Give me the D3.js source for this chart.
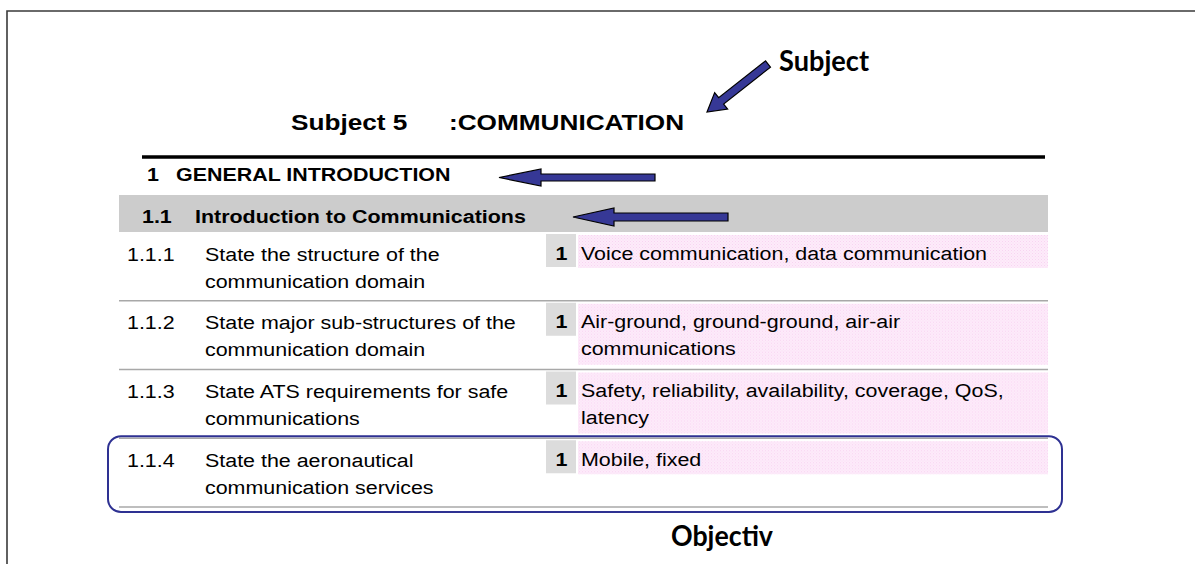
<!DOCTYPE html>
<html><head><meta charset="utf-8">
<script src="https://cdn.jsdelivr.net/npm/d3@7"></script>
<style>html,body{margin:0;padding:0;background:#fff;}svg{display:block;}</style>
</head><body>
<div id="chart"></div>
<script>
// ---- content ----
const subjectLabel = "Subject";
const objectiveLabel = "Objectiv";
const titleParts = ["Subject 5", ":COMMUNICATION"];
const sectionNumber = "1";
const sectionTitle = "GENERAL INTRODUCTION";
const subsectionNumber = "1.1";
const subsectionTitle = "Introduction to Communications";
const rowNumbers = ["1.1.1", "1.1.2", "1.1.3", "1.1.4"];
const rowObjectives = [
  ["State the structure of the", "communication domain"],
  ["State major sub-structures of the", "communication domain"],
  ["State ATS requirements for safe", "communications"],
  ["State the aeronautical", "communication services"]
];
const rowLevels = [1, 1, 1, 1];
const rowContents = [
  ["Voice communication, data communication"],
  ["Air-ground, ground-ground, air-air", "communications"],
  ["Safety, reliability, availability, coverage, QoS,", "latency"],
  ["Mobile, fixed"]
];
const highlightedRow = "1.1.4";

// ---- layout ----
const W = 1195, H = 564;
const arial = "'Liberation Sans', Arial, sans-serif";
const calibri = "Lato, 'Open Sans', sans-serif";
const arrowFill = "#363896";
const SX = 1.19; // horizontal stretch of the source picture

const svg = d3.select("#chart").append("svg").attr("width", W).attr("height", H);
const defs = svg.append("defs");
const pat = defs.append("pattern").attr("id", "pink").attr("patternUnits", "userSpaceOnUse")
  .attr("width", 3).attr("height", 3);
pat.append("rect").attr("width", 3).attr("height", 3).attr("fill", "#fdebfa");
pat.append("rect").attr("width", 1).attr("height", 1).attr("fill", "#f8d4f1");
pat.append("rect").attr("x", 1.5).attr("y", 1.5).attr("width", 1).attr("height", 1).attr("fill", "#f9dcf4");

function stretch(sel) {
  sel.each(function () {
    const n = this.getComputedTextLength();
    d3.select(this).attr("textLength", n * SX).attr("lengthAdjust", "spacingAndGlyphs");
  });
  return sel;
}

// outer frame (extends beyond the picture on right/bottom)
svg.append("path").attr("d", `M7,${H + 5} L7,11 L${W + 5},11`)
  .attr("fill", "none").attr("stroke", "#3a3a3a").attr("stroke-width", 1.6);

function text(x, y, s, size, weight, family, len) {
  const t = svg.append("text").attr("x", x).attr("y", y).text(s)
    .attr("font-size", size).attr("font-weight", weight).attr("font-family", family).attr("fill", "#000");
  if (len) t.attr("textLength", len).attr("lengthAdjust", "spacingAndGlyphs");
  else stretch(t);
  return t;
}

function arrow(tail, tip, shaft, head, headLen) {
  const dx = tip[0] - tail[0], dy = tip[1] - tail[1];
  const L = Math.hypot(dx, dy), ux = dx / L, uy = dy / L, nx = -uy, ny = ux;
  const bx = tip[0] - ux * headLen, by = tip[1] - uy * headLen;
  const pts = [
    [tail[0] + nx * shaft / 2, tail[1] + ny * shaft / 2],
    [bx + nx * shaft / 2, by + ny * shaft / 2],
    [bx + nx * head / 2, by + ny * head / 2],
    tip,
    [bx - nx * head / 2, by - ny * head / 2],
    [bx - nx * shaft / 2, by - ny * shaft / 2],
    [tail[0] - nx * shaft / 2, tail[1] - ny * shaft / 2]
  ];
  svg.append("path").attr("d", d3.line()(pts) + "Z")
    .attr("fill", arrowFill).attr("stroke", "#000").attr("stroke-width", 1.2).attr("stroke-linejoin", "miter");
}

// title and annotations
text(779, 71, subjectLabel, 28, 700, calibri, 90);
arrow([768, 64], [707, 112], 8, 21, 18);
text(291, 130, titleParts[0], 22, 700, arial);
text(449, 130, titleParts[1], 22, 700, arial);

// thick rule
svg.append("line").attr("x1", 142).attr("x2", 1045).attr("y1", 157).attr("y2", 157)
  .attr("stroke", "#000").attr("stroke-width", 3.5);

text(147, 181, sectionNumber, 18, 700, arial);
text(176, 181, sectionTitle, 18, 700, arial);
arrow([655, 177.5], [499, 177.5], 7, 17, 42);

// subsection band
svg.append("rect").attr("x", 119).attr("y", 195).attr("width", 1048 - 119).attr("height", 37).attr("fill", "#cccccc");
text(142, 223, subsectionNumber, 18, 700, arial);
text(195, 223, subsectionTitle, 18, 700, arial);
arrow([728, 217], [573, 217], 8, 18, 41);

// rows
const y = d3.scaleBand().domain(rowNumbers).range([232, 507]);
const lineH = 27;
const rows = svg.selectAll("g.row").data(rowNumbers).join("g").attr("class", "row")
  .attr("transform", d => `translate(0,${y(d)})`);

rows.append("rect").attr("x", 578).attr("y", 3).attr("width", 1048 - 578)
  .attr("height", (d, i) => 33 + (rowContents[i].length - 1) * 28).attr("fill", "url(#pink)");
rows.append("rect").attr("x", 546).attr("y", 2).attr("width", 30).attr("height", 33).attr("fill", "#dcdcdc");
rows.append("text").attr("x", 555.5).attr("y", 27.5)
  .attr("font-family", arial).attr("font-size", 18).attr("font-weight", 700).text((d, i) => rowLevels[i])
  .call(stretch);
rows.append("text").attr("x", 127).attr("y", 28.5).attr("font-family", arial).attr("font-size", 18).text(d => d)
  .call(stretch);
rows.each(function (d, i) {
  const g = d3.select(this);
  rowObjectives[i].forEach((s, k) => g.append("text").attr("x", 205).attr("y", 28.5 + k * lineH)
    .attr("font-family", arial).attr("font-size", 18).text(s).call(stretch));
  rowContents[i].forEach((s, k) => g.append("text").attr("x", 581).attr("y", 27.5 + k * lineH)
    .attr("font-family", arial).attr("font-size", 18).text(s).call(stretch));
});
// separators
svg.selectAll("line.sep").data(rowNumbers).join("line").attr("class", "sep")
  .attr("x1", 119).attr("x2", 1048)
  .attr("y1", d => y(d) + y.bandwidth()).attr("y2", d => y(d) + y.bandwidth())
  .attr("stroke", "#a8a8a8").attr("stroke-width", 1.5);

// highlight box
const hy = y(highlightedRow);
svg.append("rect").attr("x", 108).attr("y", hy - 2).attr("width", 1062 - 108).attr("height", 512 - (hy - 2))
  .attr("rx", 13).attr("ry", 13).attr("fill", "none").attr("stroke", "#2e3192").attr("stroke-width", 2);

text(671, 546, objectiveLabel, 28, 700, calibri, 102);
</script>
</body></html>
